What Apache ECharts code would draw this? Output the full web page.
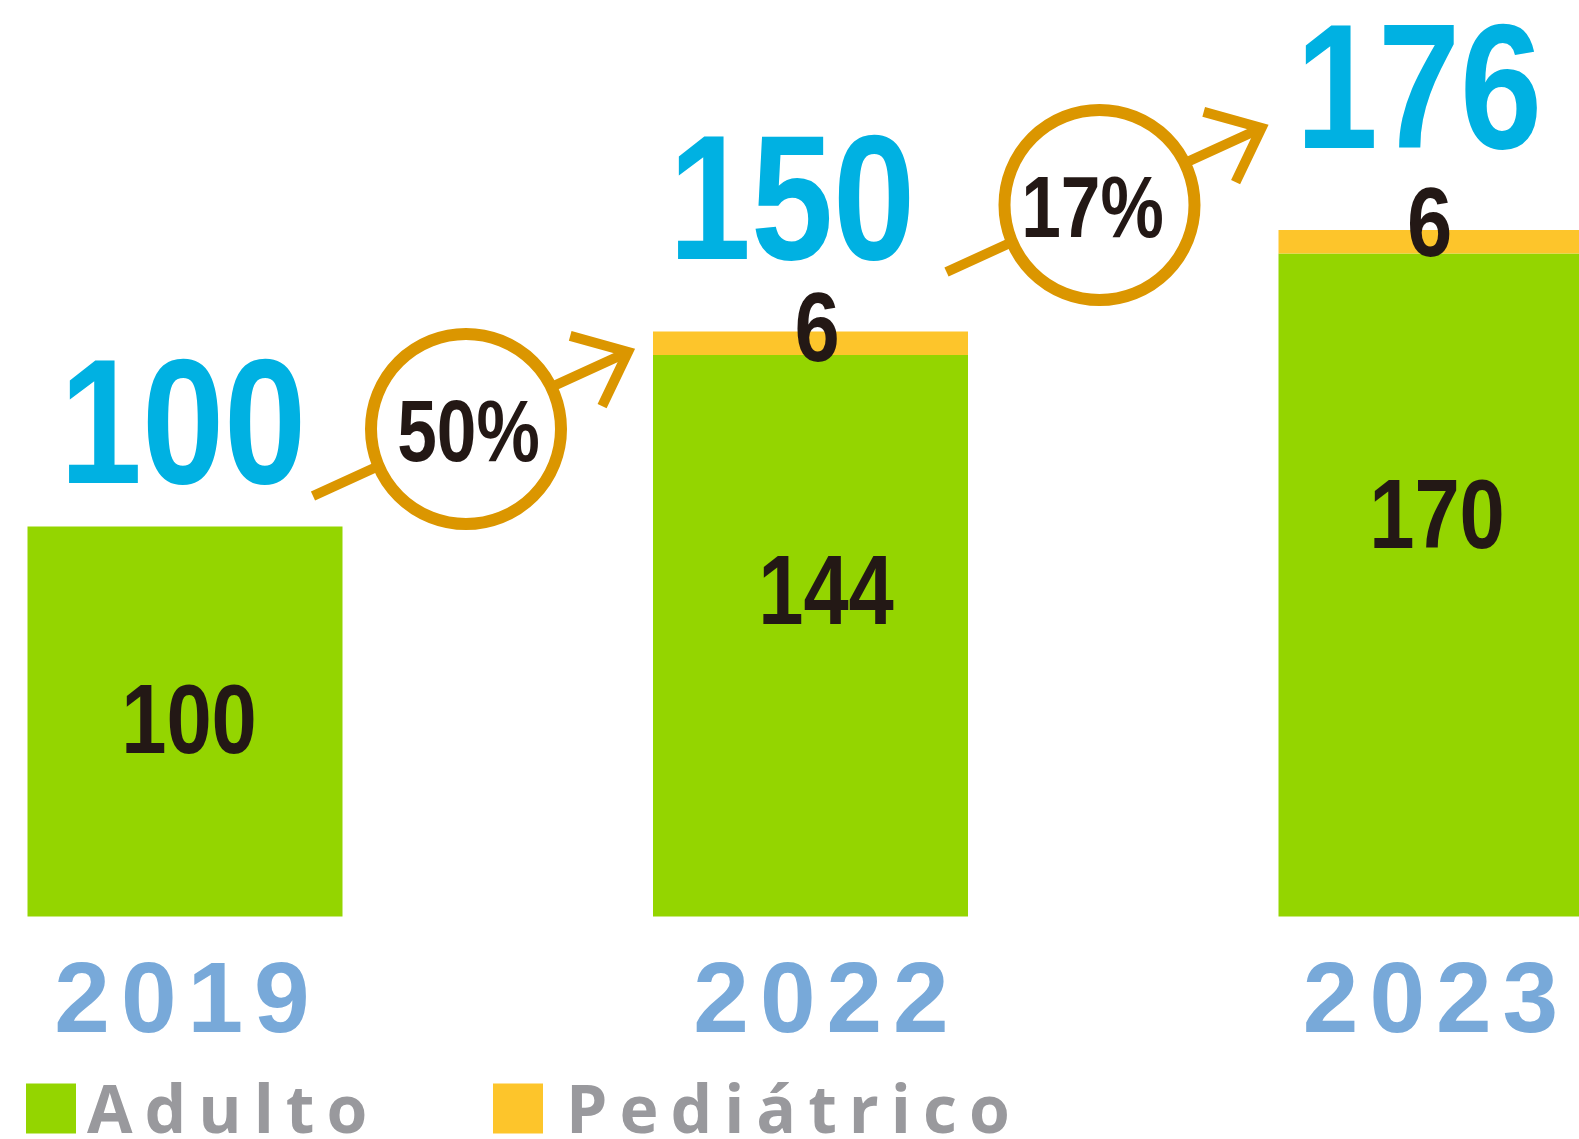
<!DOCTYPE html>
<html><head><meta charset="utf-8">
<script src="https://cdn.jsdelivr.net/npm/echarts@6/dist/echarts.min.js"></script>
<style>html,body{margin:0;padding:0;background:#fff}#c{width:1579px;height:1139px}</style>
</head><body><div id="c"></div>
<script>
// ---- data ----
const years = ['2019', '2022', '2023'];
const adulto = [100, 144, 170];
const pediatrico = [0, 6, 6];
const totals = [100, 150, 176];
const seriesNames = ['Adulto', 'Pediátrico'];

// ---- styles / layout ----
const NUM_FONT = "'Liberation Sans',Arial,sans-serif";
const TXT_FONT = "'Open Sans','Liberation Sans',sans-serif";
const C = {green:'#94d500', yellow:'#fdc52b', blue:'#00b1e2', dark:'#231815',
           gold:'#db9600', year:'#78a9d9', gray:'#99999d'};
const SQUEEZE = 0.83;         // horizontal squeeze for the condensed numerals
const BADGE_SQUEEZE = 0.81;
const BASE_SHIFT = 0.082;     // glyph-centre correction (em) for middle-aligned digits
const totalNudge = [[-2, -107.5], [-18.5, -136], [-17, -145.5]];
const adultNudge = [[4, 191.5], [15.5, 234], [1, 259.5]];
const pedNudge = [[0, 0], [6.5, -5.5], [-6.5, -9]];
const yearShift = [-3, 10.5, -5.5];
const badgePos = [[466, 429], [1099.5, 205]];
const badgeTextDx = [2.5, -7];

const growth = totals.slice(1).map((v, i) => Math.round((v - totals[i]) / totals[i] * 100) + '%');

function numText(str, x, y, size, color, sq) {
  return {type: 'text', x: x, y: y + BASE_SHIFT * size, scaleX: sq || SQUEEZE,
    style: {text: str, fill: color, fontFamily: NUM_FONT, fontWeight: 'bold', fontSize: size,
            align: 'center', verticalAlign: 'middle'}};
}

function badge(k) {
  const [cx, cy] = badgePos[k];
  const P = (x, y) => [cx + x, cy + y];
  const a = P(-153, 67), b = P(162, -77), h1 = P(104.2, -93.1), h2 = P(136.1, -22.9);
  const t = numText(growth[k], cx + badgeTextDx[k], cy + 1, 88, C.dark, BADGE_SQUEEZE);
  t.z = 103;
  return [
    {type:'line', z:100, shape:{x1:a[0], y1:a[1], x2:b[0], y2:b[1]}, style:{stroke:C.gold, lineWidth:10}},
    {type:'polyline', z:101, shape:{points:[h1, b, h2]}, style:{stroke:C.gold, lineWidth:10, fill:null, lineJoin:'miter'}},
    {type:'circle', z:102, shape:{cx:cx, cy:cy, r:95}, style:{fill:'#fff', stroke:C.gold, lineWidth:12}},
    t
  ];
}

function spaced(s, first, last) {
  const n = s.length;
  return s.split('').map((ch, i) => '{' + (i === 0 && first ? first : (i === n - 1 && last ? last : 'c')) + '|' + ch + '}').join('');
}

const YPAD = 5.5;
const yearStyle = (l, r) => ({padding: [0, r, 0, l], fontSize: 100, fontWeight: 'bold', fontFamily: NUM_FONT, color: C.year});
const yearRich = {c: yearStyle(YPAD, YPAD)};
yearShift.forEach((s, i) => {
  yearRich['f' + i] = yearStyle(YPAD + Math.max(0, 2 * s), YPAD);
  yearRich['l' + i] = yearStyle(YPAD, YPAD + Math.max(0, -2 * s));
});

const legendTok = (l) => ({padding: [12, 6, 0, l], fontSize: 66, fontWeight: 'bold', fontFamily: TXT_FONT, color: C.gray});
const legendRich = (firstPadL) => ({c: legendTok(6), f: legendTok(firstPadL)});
const legendCommon = {top: 1081.5, itemWidth: 50, itemHeight: 50, icon: 'rect', padding: 0, selectedMode: false,
  formatter: n => spaced(n, 'f')};

const chart = echarts.init(document.getElementById('c'), null, {renderer: 'canvas'});
chart.setOption({
  animation: false,
  backgroundColor: '#fff',
  grid: {left: -127.75, width: 1876.5, top: 136.5, height: 780, containLabel: false, outerBoundsMode: 'none'},
  xAxis: {
    type: 'category', data: years,
    axisLine: {show: false}, axisTick: {show: false},
    axisLabel: {interval: 0, margin: 87.5, verticalAlign: 'middle',
      formatter: (v, i) => spaced(v, 'f' + i, 'l' + i), rich: yearRich}
  },
  yAxis: {type: 'value', min: 0, max: 200, show: false, splitLine: {show: false}},
  legend: [
    Object.assign({data: [seriesNames[0]], left: 26,
      textStyle: {color: C.gray, fontFamily: TXT_FONT, fontWeight: 'bold', fontSize: 66, rich: legendRich(6)}}, legendCommon),
    Object.assign({data: [seriesNames[1]], left: 493,
      textStyle: {color: C.gray, fontFamily: TXT_FONT, fontWeight: 'bold', fontSize: 66, rich: legendRich(18)}}, legendCommon)
  ],
  series: [
    {name: seriesNames[0], type: 'bar', stack: 's', barWidth: 315, itemStyle: {color: C.green}, data: adulto},
    {name: seriesNames[1], type: 'bar', stack: 's', barWidth: 315, itemStyle: {color: C.yellow}, data: pediatrico},
    {name: 'Etiquetas', type: 'custom', clip: false, z: 5,
     encode: {x: 0, y: 1},
     data: years.map((y, i) => [i, totals[i], adulto[i], pediatrico[i]]),
     renderItem: (params, api) => {
       const i = api.value(0);
       const topT = api.coord([i, api.value(1)]);
       const topA = api.coord([i, api.value(2)]);
       const kids = [
         numText(String(api.value(1)), topT[0] + totalNudge[i][0], topT[1] + totalNudge[i][1], 178, C.blue),
         numText(String(api.value(2)), topA[0] + adultNudge[i][0], topA[1] + adultNudge[i][1], 98, C.dark)
       ];
       if (api.value(3)) {
         kids.push(numText(String(api.value(3)), topT[0] + pedNudge[i][0], topT[1] + pedNudge[i][1], 98, C.dark));
       }
       return {type: 'group', children: kids};
     }}
  ],
  graphic: [].concat(badge(0), badge(1))
});
</script></body></html>
